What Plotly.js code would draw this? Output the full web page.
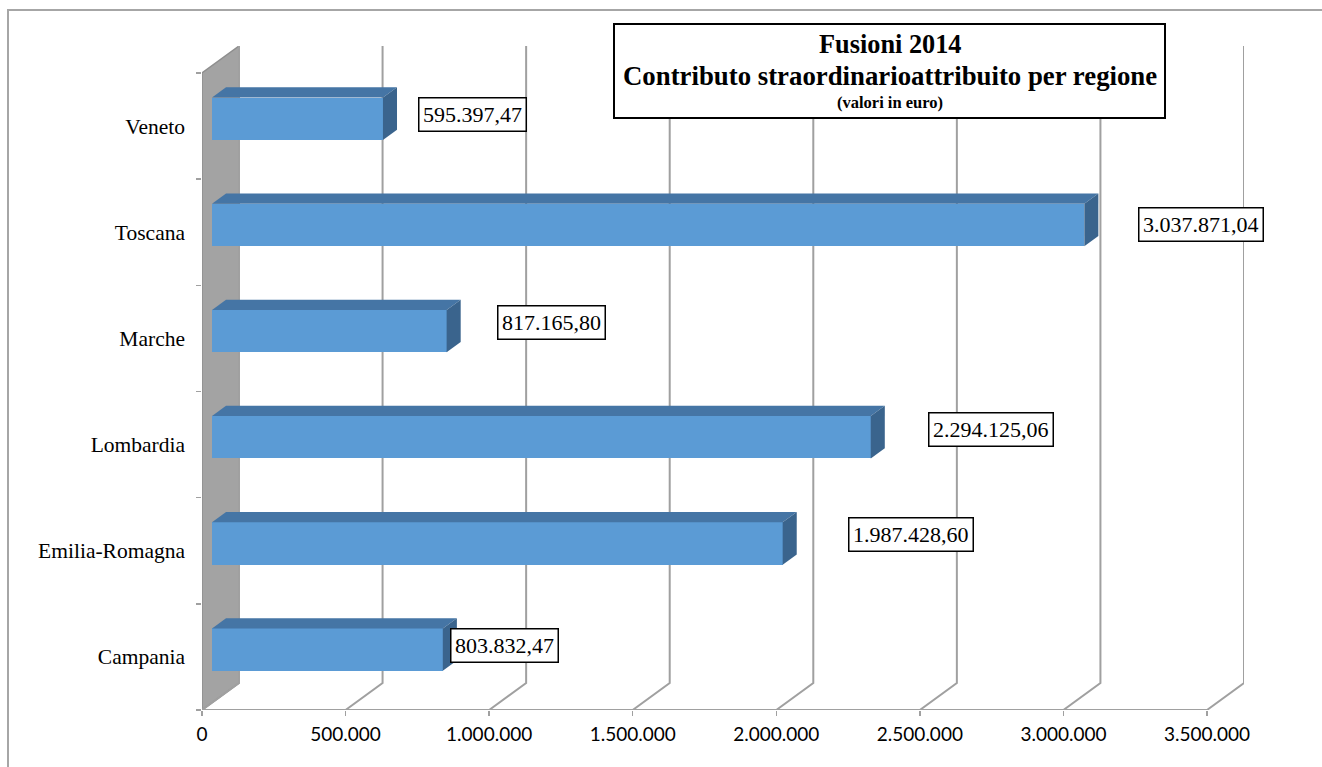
<!DOCTYPE html>
<html>
<head>
<meta charset="utf-8">
<script src="https://cdn.plot.ly/plotly-3.0.1.min.js"></script>
<style>html,body{margin:0;padding:0;background:#fff;}#chart{width:1322px;height:767px;}</style>
</head>
<body>
<div id="chart"></div>
<script>
// ---- data ----
const categories = ['Campania', 'Emilia-Romagna', 'Lombardia', 'Marche', 'Toscana', 'Veneto'];
const values = [803832.47, 1987428.60, 2294125.06, 817165.80, 3037871.04, 595397.47];
const valueLabels = ['803.832,47', '1.987.428,60', '2.294.125,06', '817.165,80', '3.037.871,04', '595.397,47'];
const xTickVals = [0, 500000, 1000000, 1500000, 2000000, 2500000, 3000000, 3500000];
const xTickText = ['0', '500.000', '1.000.000', '1.500.000', '2.000.000', '2.500.000', '3.000.000', '3.500.000'];
const titleLines = ['Fusioni 2014', 'Contributo straordinarioattribuito per regione', '(valori in euro)'];

// ---- label placement (pixel nudges, style only) ----
const labelDx = [7, 65, 57, 50, 54, 35];
const labelDy = [11, 16, 15, 16, 8, 12];

// ---- geometry / style ----
const W = 1322, H = 767;
const M = {l: 202, r: 78, t: 46, b: 57};
const XMAX = 3500000;
const PX_PER_X = (1207 - 202) / XMAX;           // front scale
const DEPTH_PX_X = 37, DEPTH_PX_Y = 27;        // oblique depth offset
const PX_PER_Y = (710 - 73) / 6;
const DX = DEPTH_PX_X / PX_PER_X;              // depth offset in data units
const DY = DEPTH_PX_Y / PX_PER_Y;
const Y0 = -0.5, YFRONT_TOP = 5.5, YTOP = 5.5 + DY;
const BAR_D0 = 0.27, BAR_D1 = 0.65;            // bar depth range (fraction)
const BAR_H = 42.4 / PX_PER_Y;

const plotW = W - M.l - M.r, plotH = H - M.t - M.b;
const pxX = p => (p - M.l) / plotW;
const pxY = p => (H - M.b - p) / plotH;

const grid = '#A0A0A0';
const shapes = [];

// outer frame
shapes.push({type: 'rect', xref: 'paper', yref: 'paper', x0: pxX(8), x1: pxX(1400), y0: pxY(10), y1: pxY(820),
  line: {color: '#A6A6A6', width: 2}, fillcolor: 'rgba(0,0,0,0)', layer: 'below'});

// side wall
shapes.push({type: 'path', xref: 'x', yref: 'y', layer: 'below',
  path: `M0,${Y0} L${DX},${Y0 + DY} L${DX},${YTOP} L0,${YFRONT_TOP} Z`,
  fillcolor: '#A3A3A3', line: {color: '#8E8E8E', width: 1.5}});

// gridlines (floor + back wall)
xTickVals.forEach(v => {
  shapes.push({type: 'path', xref: 'x', yref: 'y', layer: 'below',
    path: `M${v},${Y0} L${v + DX},${Y0 + DY} L${v + DX},${YTOP}`,
    line: {color: grid, width: 2}});
});
// floor front edge
shapes.push({type: 'line', xref: 'x', yref: 'y', layer: 'below', x0: 0, x1: XMAX, y0: Y0, y1: Y0,
  line: {color: grid, width: 2}});

// 3D bar faces
const sx0 = BAR_D0 * DX, sy0 = BAR_D0 * DY;
const ddx = (BAR_D1 - BAR_D0) * DX, ddy = (BAR_D1 - BAR_D0) * DY;
values.forEach((v, i) => {
  const yc = i + sy0;
  const yt = yc + BAR_H / 2, yb = yc - BAR_H / 2;
  const xe = sx0 + v;
  shapes.push({type: 'path', xref: 'x', yref: 'y', layer: 'above',
    path: `M${sx0},${yt} L${xe},${yt} L${xe + ddx},${yt + ddy} L${sx0 + ddx},${yt + ddy} Z`,
    fillcolor: '#4575A5', line: {width: 0}});
  shapes.push({type: 'path', xref: 'x', yref: 'y', layer: 'above',
    path: `M${xe},${yt} L${xe + ddx},${yt + ddy} L${xe + ddx},${yb + ddy} L${xe},${yb} Z`,
    fillcolor: '#3A648D', line: {width: 0}});
});

// title box
shapes.push({type: 'rect', xref: 'paper', yref: 'paper', layer: 'above',
  x0: pxX(614), x1: pxX(1165), y0: pxY(24), y1: pxY(118),
  fillcolor: '#fff', line: {color: '#000', width: 2}});

const traces = [
  {type: 'bar', orientation: 'h', y: categories.map((c, i) => i + sy0), x: values,
   base: values.map(() => sx0), width: BAR_H, marker: {color: '#5B9BD5', line: {width: 0}},
   hoverinfo: 'skip', showlegend: false},
  {type: 'scatter', x: [null], y: [null], yaxis: 'y2', showlegend: false, hoverinfo: 'skip'}
];

const annotations = values.map((v, i) => ({
  xref: 'x', yref: 'y', x: v + sx0, y: i, xanchor: 'left', yanchor: 'middle',
  xshift: labelDx[i], yshift: labelDy[i], showarrow: false, text: valueLabels[i],
  font: {family: 'Liberation Serif', size: 22, color: '#000'},
  bgcolor: '#fff', bordercolor: '#000', borderwidth: 1.5, borderpad: 3.5
}));

const titleY = [45, 76, 103];
const titleSize = [26.3, 26.8, 16.5];
titleLines.forEach((t, k) => {
  annotations.push({
    xref: 'paper', yref: 'paper', x: pxX(889.5), y: pxY(titleY[k]), xanchor: 'center', yanchor: 'middle',
    showarrow: false, text: `<b>${t}</b>`,
    font: {family: 'Liberation Serif', size: titleSize[k], color: '#000'}
  });
});

const layout = {
  width: W, height: H, margin: M, paper_bgcolor: '#fff', plot_bgcolor: 'rgba(0,0,0,0)',
  showlegend: false, bargap: 0,
  xaxis: {range: [0, XMAX + DX], tickvals: xTickVals, ticktext: xTickText, ticks: 'outside', ticklen: 5,
    tickcolor: grid, tickwidth: 1.5, showgrid: false, zeroline: false, showline: false,
    tickfont: {family: 'Lato', size: 19, color: '#000'}, ticklabelstandoff: 2, fixedrange: true},
  yaxis: {range: [Y0, YTOP], tickvals: categories.map((c, i) => i), ticktext: categories, ticks: '',
    showgrid: false, zeroline: false, showline: false, ticklabelstandoff: 16,
    tickfont: {family: 'Liberation Serif', size: 21.5, color: '#000'}, fixedrange: true},
  yaxis2: {overlaying: 'y', side: 'left', anchor: 'x', range: [Y0, YTOP],
    tickvals: [-0.5, 0.5, 1.5, 2.5, 3.5, 4.5, 5.5], ticks: 'outside', ticklen: 5, tickcolor: grid, tickwidth: 1.5,
    showticklabels: false, showgrid: false, zeroline: false, showline: false, fixedrange: true},
  shapes: shapes, annotations: annotations
};

Plotly.newPlot('chart', traces, layout, {displayModeBar: false, staticPlot: true});
</script>
</body>
</html>
